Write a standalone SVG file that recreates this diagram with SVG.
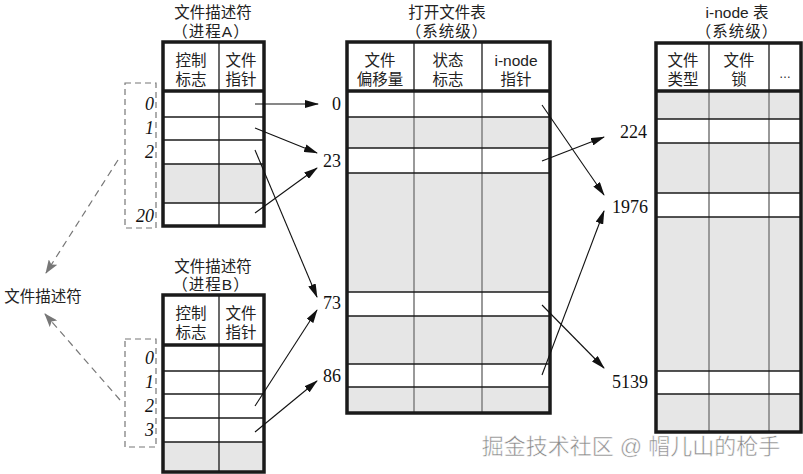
<svg xmlns="http://www.w3.org/2000/svg" width="803" height="474" viewBox="0 0 803 474">
<style>
.cjk{font-family:"Liberation Sans","Noto Sans CJK SC",sans-serif;font-size:15.5px;fill:#222;text-anchor:middle}
.num{font-family:"Liberation Serif",serif;font-size:18px;fill:#111}
.idx{font-family:"Liberation Serif",serif;font-size:18px;font-style:italic;fill:#111;text-anchor:end}
.frame{fill:none;stroke:#1a1a1a;stroke-width:3.5}
.hl{stroke:#1a1a1a;stroke-width:1.3}
.vl{stroke:#1a1a1a;stroke-width:1.3}
.vg{stroke:#999;stroke-width:2}
.gray{fill:#e6e6e6}
.dash{fill:none;stroke:#777;stroke-width:1.2;stroke-dasharray:6 4}
.arr{stroke:#111;stroke-width:1.1;fill:none;marker-end:url(#ah)}
.darr{stroke:#777;stroke-width:1.2;stroke-dasharray:7 5;fill:none;marker-end:url(#ahg)}
</style>
<defs>
<marker id="ah" markerWidth="14" markerHeight="8" refX="13" refY="4" orient="auto" markerUnits="userSpaceOnUse"><path d="M0,0 L14,4 L0,8 Z" fill="#111"/></marker>
<marker id="ahg" markerWidth="14" markerHeight="10" refX="13" refY="5" orient="auto" markerUnits="userSpaceOnUse"><path d="M0,0 L14,5 L0,10 L3,5 Z" fill="#777"/></marker>
</defs>
<rect width="803" height="474" fill="#fff"/>

<!-- Process A fd table -->
<g id="fdtable-a">
<text class="cjk"><tspan x="213" y="18">文件描述符</tspan><tspan x="211" y="37" letter-spacing="1">（进程A）</tspan></text>
<rect class="gray" x="163" y="164" width="101" height="39"/>
<line class="vl" x1="219" y1="42" x2="219" y2="226"/>
<line class="hl" x1="163" y1="117" x2="264" y2="117"/>
<line class="hl" x1="163" y1="140" x2="264" y2="140"/>
<line class="hl" x1="163" y1="164" x2="264" y2="164"/>
<line class="hl" x1="163" y1="203" x2="264" y2="203"/>
<line class="frame" x1="163" y1="91" x2="264" y2="91"/>
<rect class="frame" x="163" y="42" width="101" height="184"/>
<text class="cjk"><tspan x="191" y="66">控制</tspan><tspan x="191" y="85">标志</tspan></text>
<text class="cjk"><tspan x="241" y="66">文件</tspan><tspan x="241" y="85">指针</tspan></text>
<rect class="dash" x="125" y="83" width="31" height="145"/>
<text class="idx" x="154" y="110">0</text>
<text class="idx" x="154" y="134">1</text>
<text class="idx" x="154" y="158">2</text>
<text class="idx" x="154" y="222">20</text>
</g>

<!-- Process B fd table -->
<g id="fdtable-b">
<text class="cjk"><tspan x="213" y="272">文件描述符</tspan><tspan x="211" y="290" letter-spacing="1">（进程B）</tspan></text>
<rect class="gray" x="163" y="442" width="101" height="30"/>
<line class="vl" x1="219" y1="295" x2="219" y2="472"/>
<line class="hl" x1="163" y1="371" x2="264" y2="371"/>
<line class="hl" x1="163" y1="394" x2="264" y2="394"/>
<line class="hl" x1="163" y1="418" x2="264" y2="418"/>
<line class="hl" x1="163" y1="442" x2="264" y2="442"/>
<line class="frame" x1="163" y1="345" x2="264" y2="345"/>
<rect class="frame" x="163" y="295" width="101" height="177"/>
<text class="cjk"><tspan x="191" y="319">控制</tspan><tspan x="191" y="338">标志</tspan></text>
<text class="cjk"><tspan x="241" y="319">文件</tspan><tspan x="241" y="338">指针</tspan></text>
<rect class="dash" x="125" y="339" width="31" height="108"/>
<text class="idx" x="154" y="364">0</text>
<text class="idx" x="154" y="388">1</text>
<text class="idx" x="154" y="412">2</text>
<text class="idx" x="154" y="436">3</text>
</g>

<!-- Open file table -->
<g id="open-file-table">
<text class="cjk"><tspan x="447" y="18">打开文件表</tspan><tspan x="447" y="37" letter-spacing="1">（系统级）</tspan></text>
<rect class="gray" x="347" y="117" width="203" height="31"/>
<rect class="gray" x="347" y="173" width="203" height="119"/>
<rect class="gray" x="347" y="316" width="203" height="48"/>
<rect class="gray" x="347" y="387" width="203" height="26"/>
<line class="vg" x1="414" y1="91" x2="414" y2="413"/>
<line class="vg" x1="482" y1="91" x2="482" y2="413"/>
<line class="vl" x1="414" y1="42" x2="414" y2="91"/>
<line class="vl" x1="482" y1="42" x2="482" y2="91"/>
<line class="hl" x1="347" y1="117" x2="550" y2="117"/>
<line class="hl" x1="347" y1="148" x2="550" y2="148"/>
<line class="hl" x1="347" y1="173" x2="550" y2="173"/>
<line class="hl" x1="347" y1="292" x2="550" y2="292"/>
<line class="hl" x1="347" y1="316" x2="550" y2="316"/>
<line class="hl" x1="347" y1="364" x2="550" y2="364"/>
<line class="hl" x1="347" y1="387" x2="550" y2="387"/>
<line class="frame" x1="347" y1="91" x2="550" y2="91"/>
<rect class="frame" x="347" y="42" width="203" height="371"/>
<text class="cjk"><tspan x="380" y="66">文件</tspan><tspan x="380" y="85">偏移量</tspan></text>
<text class="cjk"><tspan x="448" y="66">状态</tspan><tspan x="448" y="85">标志</tspan></text>
<text class="cjk"><tspan x="516" y="66">i-node</tspan><tspan x="516" y="85">指针</tspan></text>
<text class="num" x="341" y="110" text-anchor="end">0</text>
<text class="num" x="341" y="167" text-anchor="end">23</text>
<text class="num" x="341" y="309" text-anchor="end">73</text>
<text class="num" x="341" y="382" text-anchor="end">86</text>
</g>

<!-- i-node table -->
<g id="inode-table">
<text class="cjk"><tspan x="737" y="18">i-node 表</tspan><tspan x="737" y="37" letter-spacing="1">（系统级）</tspan></text>
<rect class="gray" x="656" y="91" width="146" height="28"/>
<rect class="gray" x="656" y="143" width="146" height="50"/>
<rect class="gray" x="656" y="217" width="146" height="154"/>
<rect class="gray" x="656" y="394" width="146" height="38"/>
<line class="vg" x1="709" y1="91" x2="709" y2="432"/>
<line class="vg" x1="769" y1="91" x2="769" y2="432"/>
<line class="vl" x1="709" y1="43" x2="709" y2="91"/>
<line class="vl" x1="769" y1="43" x2="769" y2="91"/>
<line class="hl" x1="656" y1="119" x2="802" y2="119"/>
<line class="hl" x1="656" y1="143" x2="802" y2="143"/>
<line class="hl" x1="656" y1="193" x2="802" y2="193"/>
<line class="hl" x1="656" y1="217" x2="802" y2="217"/>
<line class="hl" x1="656" y1="371" x2="802" y2="371"/>
<line class="hl" x1="656" y1="394" x2="802" y2="394"/>
<line class="frame" x1="656" y1="91" x2="802" y2="91"/>
<rect class="frame" x="656" y="43" width="145" height="389"/>
<text class="cjk"><tspan x="683" y="66">文件</tspan><tspan x="683" y="85">类型</tspan></text>
<text class="cjk"><tspan x="739" y="66">文件</tspan><tspan x="739" y="85">锁</tspan></text>
<text class="cjk" x="785" y="78" style="font-size:12px">…</text>
<text class="num" x="647" y="138" text-anchor="end">224</text>
<text class="num" x="648" y="213" text-anchor="end">1976</text>
<text class="num" x="648" y="388" text-anchor="end">5139</text>
</g>

<g id="fd-label">
<text class="cjk" x="43" y="302">文件描述符</text>
</g>

<!-- connectors -->
<g id="connectors">
<line class="arr" x1="255" y1="104" x2="318" y2="104"/>
<line class="arr" x1="255" y1="128" x2="317" y2="153"/>
<line class="arr" x1="255" y1="150" x2="317" y2="297"/>
<line class="arr" x1="255" y1="213" x2="317" y2="168"/>
<line class="arr" x1="255" y1="406" x2="317" y2="310"/>
<line class="arr" x1="255" y1="432" x2="317" y2="381"/>
<line class="arr" x1="542" y1="105" x2="604" y2="195"/>
<line class="arr" x1="542" y1="161" x2="604" y2="137"/>
<line class="arr" x1="542" y1="305" x2="604" y2="368"/>
<line class="arr" x1="542" y1="375" x2="604" y2="211"/>
<line class="darr" x1="118" y1="160" x2="46" y2="273"/>
<line class="darr" x1="120" y1="400" x2="45" y2="314"/>
</g>

<g id="watermark">
<text x="631" y="454" style="font-family:'Liberation Sans','Noto Sans CJK SC',sans-serif;font-size:22px;fill:#8a8a8a;text-anchor:middle;stroke:#fff;stroke-width:0.5">掘金技术社区 @ 帽儿山的枪手</text>
</g>
</svg>
